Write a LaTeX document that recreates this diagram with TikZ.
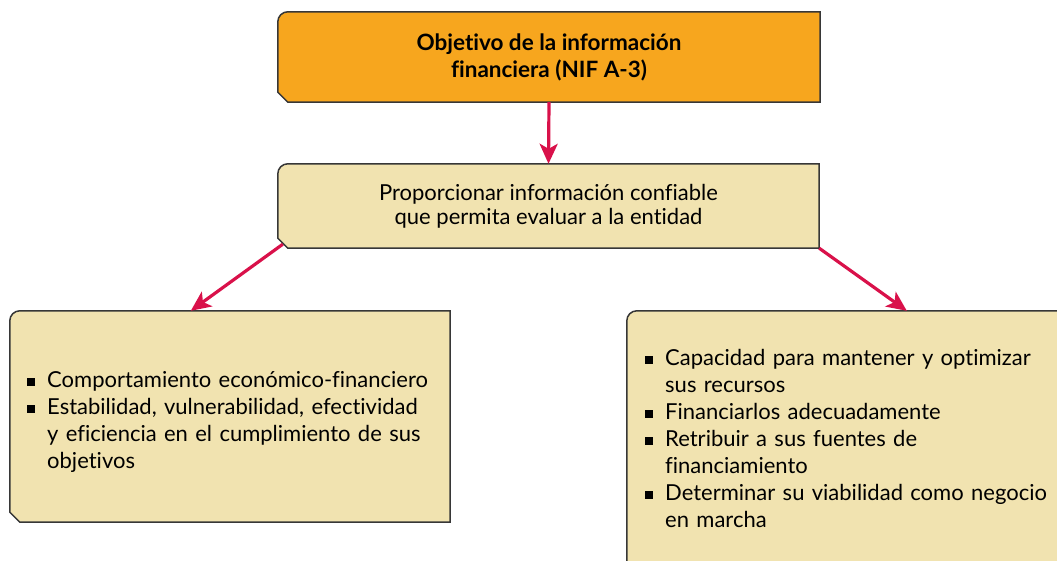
\documentclass[tikz,border=0pt]{standalone}
\usepackage{fontspec}
\setmainfont{Lato}[Ligatures=NoCommon]
\usetikzlibrary{arrows.meta,backgrounds}

\definecolor{naranja}{RGB}{247,166,30}
\definecolor{crema}{RGB}{241,227,176}
\definecolor{carmin}{RGB}{217,17,74}
\definecolor{borde}{RGB}{55,55,55}

% bullet square and list line
\newcommand{\cuadro}{\rule[1.5pt]{8pt}{8pt}}
\newcommand{\punto}{\par\noindent\hangindent=20pt\hangafter=1\makebox[20pt][l]{\cuadro}}
% card outline: rounded top left, cut bottom left
\newcommand{\tarjeta}[2]{%
  \draw[borde,line width=1.5pt,fill=#2]
    ([yshift=10pt]#1.south west) -- ([yshift=-10pt]#1.north west)
    arc[start angle=180,end angle=90,radius=10pt] -- (#1.north east)
    -- (#1.south east) -- ([xshift=10pt]#1.south west) -- cycle;}

\tikzset{
  caja/.style={inner sep=0pt,minimum width=#1,align=center,font=\fontsize{22}{24}\selectfont},
  lista/.style={inner sep=0pt,text width=#1,align=left,font=\fontsize{22}{27}\selectfont},
  flecha/.style={carmin,line width=3.2pt,-{Stealth[length=20pt,width=18pt,inset=5pt]}}
}

\begin{document}
\begin{tikzpicture}[x=1pt,y=1pt]
\useasboundingbox (0,0) rectangle (1057,-561);
\clip (0,0) rectangle (1057,-561);

\node[caja=542pt,minimum height=90pt,font=\bfseries\fontsize{22.5}{27}\selectfont] (obj) at (549,-57)
  {Objetivo de la información\\financiera (NIF A-3)};
\node[caja=541pt,minimum height=84pt] (prop) at (548.5,-206)
  {Proporcionar información confiable\\que permita evaluar a la entidad};
\node[caja=440pt,minimum height=211pt] (izq) at (230,-416.5) {};
\node[caja=443pt,minimum height=264pt] (der) at (848.5,-443) {};

\node[lista=440pt,anchor=north west] (txtizq) at (27,-360) {%
  \punto Comportamiento económico-financiero
  \punto Estabilidad, vulnerabilidad, efectividad\newline y eficiencia en el cumplimiento de sus\newline objetivos\par};
\node[lista=410pt,anchor=north west] (txtder) at (645,-338) {%
  \punto Capacidad para mantener y optimizar\newline sus recursos
  \punto Financiarlos adecuadamente
  \punto Retribuir a sus fuentes de\newline financiamiento
  \punto Determinar su viabilidad como negocio\newline en marcha\par};

\begin{scope}[on background layer]
\tarjeta{obj}{naranja}
\tarjeta{prop}{crema}
\tarjeta{izq}{crema}
\tarjeta{der}{crema}
\end{scope}

\draw[flecha] (obj.south) -- (prop.north);
\draw[flecha] ([shift={(5pt,4pt)}]prop.south west) -- ([xshift=181pt]izq.north west);
\draw[flecha] (prop.south east) -- ([xshift=280pt]der.north west);
\end{tikzpicture}
\end{document}
